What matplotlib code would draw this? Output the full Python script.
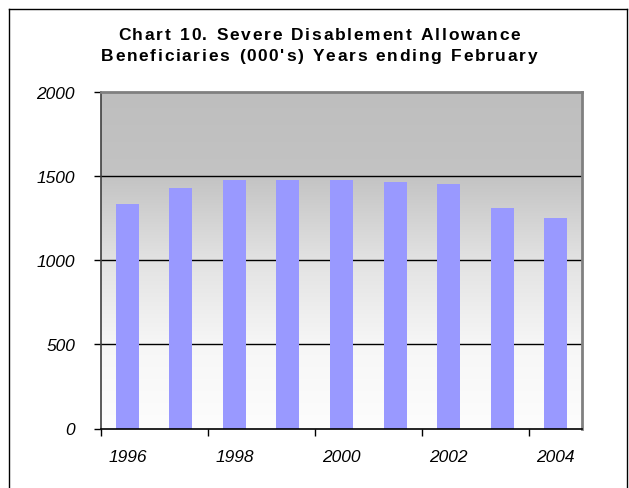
import numpy as np
import matplotlib
matplotlib.use("Agg")
from matplotlib import pyplot as plt
from matplotlib.lines import Line2D
from matplotlib.colors import LinearSegmentedColormap

years = [1996, 1997, 1998, 1999, 2000, 2001, 2002, 2003, 2004]
beneficiaries = [1335, 1430, 1478, 1478, 1478, 1466, 1454, 1311, 1252]
year_labels = ["1996", "1998", "2000", "2002", "2004"]
y_ticks = [0, 500, 1000, 1500, 2000]

title_lines = ["Chart 10. Severe Disablement Allowance",
               "Beneficiaries (000's) Years ending February"]

plt.rcParams["font.family"] = ["Liberation Sans", "DejaVu Sans"]

W, H = 629, 489
fig = plt.figure(figsize=(W / 100, H / 100), dpi=100)
renderer = fig.canvas.get_renderer()

fx = lambda px: px / W
fy = lambda py: 1 - py / H

# outer chart border (open at the bottom)
for xs, ys in [([9, 9], [H + 5, 10]), ([9, 627], [10, 10]), ([627, 627], [10, H + 5])]:
    fig.add_artist(Line2D([fx(x) for x in xs], [fy(y) for y in ys],
                          color="black", lw=1.0))

ax = fig.add_axes([fx(100.7), fy(429.5), fx(582.3) - fx(100.7), fy(93.3) - fy(429.5)])

n = len(years)
x = np.arange(n)

# grey-to-white background gradient
stops = [(0.0, "#bebebe"), (0.25, "#c3c3c3"), (0.5, "#e2e2e2"),
         (0.75, "#f6f6f6"), (1.0, "#fdfdfd")]
cmap = LinearSegmentedColormap.from_list("bg", stops)
grad = np.linspace(0, 1, 256).reshape(-1, 1)
ax.imshow(grad, cmap=cmap, aspect="auto", extent=(-0.5, n - 0.5, 0, 2000),
          origin="upper", zorder=0)
ax.set_xlim(-0.5, n - 0.5)
ax.set_ylim(0, 2000)

for v in y_ticks[1:-1]:
    ax.axhline(v, color="black", lw=1.0, zorder=1)

ax.bar(x, beneficiaries, width=0.43, color="#9999ff", zorder=2)

for side in ["top", "right"]:
    ax.spines[side].set_color("#808080")
    ax.spines[side].set_linewidth(2.0)
ax.spines["left"].set_color("#404040")
ax.spines["left"].set_linewidth(1.2)
ax.spines["bottom"].set_color("black")
ax.spines["bottom"].set_linewidth(1.2)

ax.set_yticks(y_ticks)
ax.set_yticklabels([str(v) for v in y_ticks], fontsize=12.5, fontstyle="italic")
ax.tick_params(axis="y", length=5, width=1, color="black", pad=13.5)

ax.set_xticks(x[::2])
ax.set_xticklabels(year_labels, fontsize=12.5, fontstyle="italic")
ax.set_xticks(np.arange(-0.5, n - 1, 2), minor=True)
ax.tick_params(axis="x", which="major", length=0, pad=15)
ax.tick_params(axis="x", which="minor", length=5, width=1, color="black")


def spaced_text(cx, cy, s, spacing, **kw):
    # draw a string one character at a time with extra tracking (pixels)
    widths = []
    for ch in s:
        t = fig.text(0, 0, "n" if ch == " " else ch, **kw)
        w = t.get_window_extent(renderer).width
        t.remove()
        widths.append(w * (0.55 if ch == " " else 1.0))
    total = sum(widths) + spacing * (len(s) - 1)
    xpos = cx - total / 2
    for ch, w in zip(s, widths):
        if ch != " ":
            fig.text(fx(xpos), fy(cy), ch, ha="left", va="baseline", **kw)
        xpos += w + spacing


for i, line in enumerate(title_lines):
    spaced_text(319, 39.5 + 22 * i, line, 1.7, fontsize=12.5, fontweight="bold")

fig.savefig("out.png", dpi=100)
